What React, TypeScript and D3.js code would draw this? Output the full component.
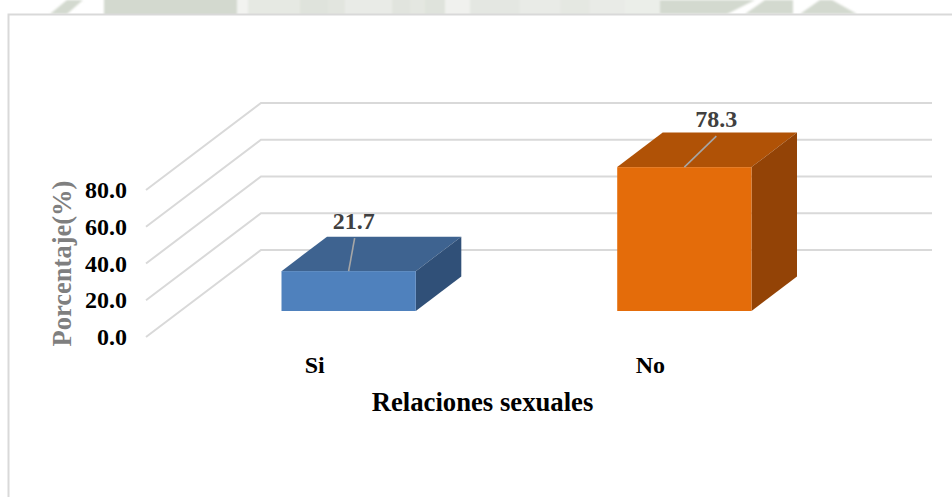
import React from "react";
import * as d3 from "d3";

const W = 952, H = 497;
const categories = ["Si", "No"];
const values = [21.7, 78.3];
const valueLabels = ["21.7", "78.3"];
const ticks = [0, 20, 40, 60, 80];
const xTitle = "Relaciones sexuales";
const yTitle = "Porcentaje(%)";
const faceColors = ["#4f81bd", "#e46c0a"];
const topColors = ["#3e6390", "#b05206"];
const sideColors = ["#305078", "#934306"];

// Watermark strip behind the chart: [x0, x1, colour]
const stripBands: [number, number, string][] = [
  [104, 237, "#d3d9cf"], [237, 248, "#f2f3f0"], [248, 300, "#e6e9e3"], [300, 328, "#dfe3dc"],
  [328, 345, "#e2e5df"], [345, 392, "#e9ebe7"], [392, 410, "#e1e4de"], [410, 425, "#e4e7e1"],
  [425, 445, "#dfe3dc"], [445, 470, "#f0f1ee"], [470, 520, "#e4e7e2"], [520, 560, "#e9ebe7"],
  [560, 590, "#e5e8e2"], [590, 625, "#e9ebe7"], [625, 660, "#ebeee9"],
];
const stripShapes: string[] = [
  "50,14 67,0 83,0 67,14",
  "660,0 755,0 727,14 660,14",
  "765,0 793,0 793,14 745,14",
  "820,0 832,0 857,14 800,14",
];

const yBack = d3.scaleLinear().domain([0, 80]).range([250, 103]);
const yFront = d3.scaleLinear().domain([0, 80]).range([337, 190]);
const xWall: [number, number] = [261, 932];
const xDiagStart = 146;
const band = d3.scaleBand<string>().domain(categories).range([281.5, 751.5]).paddingInner(0.6).paddingOuter(0);
const depth = { dx: 45.5, dy: -34.5 };
const barBase = 311;
const pts = (a: [number, number][]) => a.map(p => p.join(",")).join(" ");
const serif = "'Liberation Serif','Times New Roman',serif";

export default function App() {
  const h = (v: number) => yBack(0) - yBack(v);
  return (
    <svg width={W} height={H} style={{ position: "absolute", left: 0, top: 0, background: "#fff" }} fontFamily={serif} fontWeight="bold">
      <defs>
        <filter id="soft" x="-5%" y="-50%" width="110%" height="200%"><feGaussianBlur stdDeviation="0.8" /></filter>
        <clipPath id="strip"><rect x={0} y={0} width={W} height={14} /></clipPath>
      </defs>
      <g clipPath="url(#strip)">
        <g filter="url(#soft)">
          {stripBands.map(([a, b, c], i) => <rect key={i} x={a} y={-4} width={b - a} height={22} fill={c} />)}
          {stripShapes.map((s, i) => <polygon key={i} points={s} fill="#d3d9cf" />)}
        </g>
      </g>
      <path d="M8.5,497V14.5H952" fill="none" stroke="#d9d9d9" strokeWidth={2} />

      {ticks.map(t => (
        <polyline key={t}
          points={pts([[xDiagStart, yFront(t)], [xWall[0], yBack(t)], [xWall[1], yBack(t)]])}
          fill="none" stroke="#d9d9d9" strokeWidth={2} />
      ))}
      {ticks.map(t => (
        <text key={t} x={127} y={yFront(t) + 8} textAnchor="end" fontSize={24} fill="#000">{t.toFixed(1)}</text>
      ))}

      {categories.map((c, i) => {
        const x0 = band(c)!;
        const x1 = x0 + band.bandwidth();
        const top = barBase - h(values[i]);
        const { dx, dy } = depth;
        const mid = (x0 + x1) / 2;
        const lx = i === 0 ? 6 : 32;
        const ly = i === 0 ? -33 : -31;
        return (
          <g key={c}>
            <polygon points={pts([[x0, top], [x1, top], [x1 + dx, top + dy], [x0 + dx, top + dy]])} fill={topColors[i]} />
            <polygon points={pts([[x1, top], [x1 + dx, top + dy], [x1 + dx, barBase + dy], [x1, barBase]])} fill={sideColors[i]} />
            <rect x={x0} y={top} width={x1 - x0} height={barBase - top} fill={faceColors[i]} />
            <line x1={mid} y1={top} x2={mid + lx} y2={top + ly} stroke="#a6a6a6" strokeWidth={1.6} />
            <text x={mid + (i === 0 ? 5 : 32)} y={top + (i === 0 ? -42 : -40)} textAnchor="middle" fontSize={24} fill="#404040">{valueLabels[i]}</text>
            <text x={mid - 34} y={373} textAnchor="middle" fontSize={24} fill="#000">{c}</text>
          </g>
        );
      })}

      <text x={482.5} y={410.5} textAnchor="middle" fontSize={26.7} fill="#000">{xTitle}</text>
      <text transform="translate(71,263.5) rotate(-90)" textAnchor="middle" fontSize={26.5} fill="#7f7f7f">{yTitle}</text>
    </svg>
  );
}
